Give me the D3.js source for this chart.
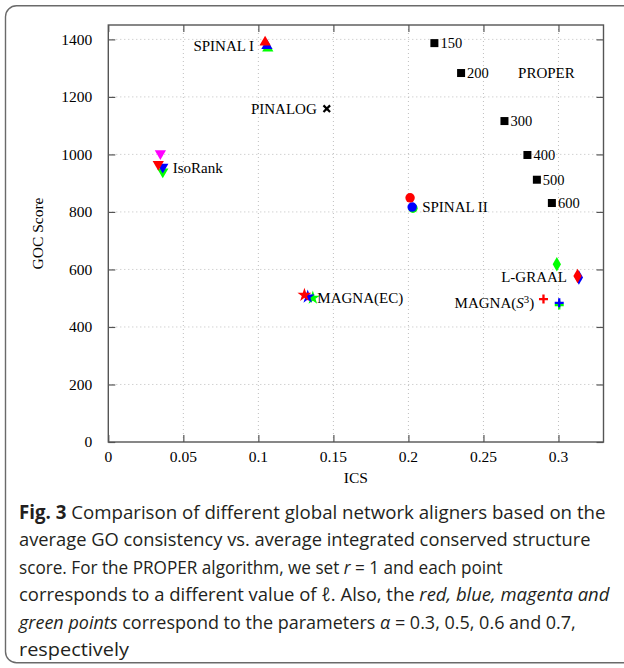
<!DOCTYPE html>
<html>
<head>
<meta charset="utf-8">
<script src="https://cdn.jsdelivr.net/npm/d3@7"></script>
<style>
  html, body { margin: 0; padding: 0; background: #fff; }
  svg { display: block; }
</style>
</head>
<body>
<svg id="chart" width="624" height="668"></svg>
<script>
// ---------------- DATA ----------------
// series order: alpha = 0.3 (red), 0.5 (blue), 0.6 (magenta), 0.7 (green)
const alphaValues = [0.3, 0.5, 0.6, 0.7];
const alphaColors = ["#ff0000", "#0000ff", "#ff00ff", "#00ff00"];

const spinalI_ICS  = [0.1045, 0.1057, null, 0.1063];
const spinalI_GOC  = [1390, 1378, null, 1369];
const isoRank_ICS  = [0.0333, 0.0363, 0.0347, 0.0363];
const isoRank_GOC  = [966, 956, 1003, 940];
const spinalII_ICS = [0.2011, 0.2025, null, 0.2030];
const spinalII_GOC = [849, 817, null, 813];
const lgraal_ICS   = [0.3127, 0.3136, null, 0.2989];
const lgraal_GOC   = [577, 572, null, 618];
const magnaS3_ICS  = [0.2900, 0.3005, null, 0.3005];
const magnaS3_GOC  = [497, 484, null, 476];
const magnaEC_ICS  = [0.1307, 0.1329, null, 0.1363];
const magnaEC_GOC  = [511, 505, null, 501];

const pinalog_ICS = [0.1456];
const pinalog_GOC = [1159];

const properL    = [150, 200, 300, 400, 500, 600];
const proper_ICS = [0.2173, 0.2351, 0.2640, 0.2793, 0.2856, 0.2956];
const proper_GOC = [1387, 1283, 1116, 998, 912, 831];

const xTicks = [0, 0.05, 0.1, 0.15, 0.2, 0.25, 0.3];
const xTickLabels = ["0", "0.05", "0.1", "0.15", "0.2", "0.25", "0.3"];
const yTicks = [0, 200, 400, 600, 800, 1000, 1200, 1400];
const xDomain = [0, 0.33];
const yDomain = [0, 1450];

// ---------------- LAYOUT ----------------
const svg = d3.select("#chart");
const L = 108.3, R = 603.5, T = 25, B = 442;
const x = d3.scaleLinear().domain(xDomain).range([L, R]);
const y = d3.scaleLinear().domain(yDomain).range([B, T]);
const serif = "'Liberation Serif', 'Times New Roman', serif";
const fs = 15.5;

// outer frame
svg.append("rect")
  .attr("x", 5.5).attr("y", 5.8).attr("width", 660).attr("height", 657)
  .attr("rx", 11).attr("fill", "none").attr("stroke", "#6a6a6a").attr("stroke-width", 1.4);

// grid
const grid = svg.append("g").attr("stroke", "#b8b8b8").attr("stroke-width", 0.9)
  .attr("stroke-dasharray", "1,3");
grid.selectAll("line.gx").data(xTicks.filter(d => d > 0)).join("line")
  .attr("x1", d => x(d)).attr("x2", d => x(d)).attr("y1", B).attr("y2", T);
grid.selectAll("line.gy").data(yTicks.filter(d => d > 0)).join("line")
  .attr("y1", d => y(d)).attr("y2", d => y(d)).attr("x1", L).attr("x2", R);

// axes (inward ticks on all four sides)
const axisColor = "#555";
const gB = svg.append("g").attr("transform", `translate(0,${B})`)
  .call(d3.axisTop(x).tickValues(xTicks).tickSize(7).tickFormat(""));
const gT = svg.append("g").attr("transform", `translate(0,${T})`)
  .call(d3.axisBottom(x).tickValues(xTicks).tickSize(7).tickFormat(""));
const gL = svg.append("g").attr("transform", `translate(${L},0)`)
  .call(d3.axisRight(y).tickValues(yTicks).tickSize(7).tickFormat(""));
const gR = svg.append("g").attr("transform", `translate(${R},0)`)
  .call(d3.axisLeft(y).tickValues(yTicks).tickSize(7).tickFormat(""));
[gB, gT, gL, gR].forEach(g => {
  g.select(".domain").remove();
  g.selectAll(".tick line").attr("stroke", axisColor).attr("stroke-width", 1.2);
});
svg.append("rect").attr("x", L).attr("y", T).attr("width", R - L).attr("height", B - T)
  .attr("fill", "none").attr("stroke", axisColor).attr("stroke-width", 1.4);

// tick labels
svg.append("g").selectAll("text").data(xTicks).join("text")
  .attr("x", d => x(d)).attr("y", B + 15).attr("dy", "0.35em")
  .attr("text-anchor", "middle").attr("font-family", serif).attr("font-size", fs)
  .text((d, i) => xTickLabels[i]);
svg.append("g").selectAll("text").data(yTicks).join("text")
  .attr("x", L - 16).attr("y", d => y(d)).attr("dy", "0.35em")
  .attr("text-anchor", "end").attr("font-family", serif).attr("font-size", fs)
  .text(d => d);

// axis titles
svg.append("text").attr("x", (L + R) / 2).attr("y", 478).attr("dy", "0.35em")
  .attr("text-anchor", "middle").attr("font-family", serif).attr("font-size", fs).text("ICS");
svg.append("text").attr("transform", `translate(38,${(T + B) / 2}) rotate(-90)`)
  .attr("dy", "0.35em").attr("text-anchor", "middle")
  .attr("font-family", serif).attr("font-size", fs).text("GOC Score");

// ---------------- MARKERS ----------------
const plot = svg.append("g");
function pts(ics, goc) {
  return alphaValues.map((a, i) => ({ i, a, c: alphaColors[i], x: ics[i], y: goc[i] }))
    .filter(d => d.x !== null)
    .sort((p, q) => [3, 2, 1, 0].indexOf(p.i) - [3, 2, 1, 0].indexOf(q.i)); // green, magenta, blue, red
}
function symbolSeries(ics, goc, type, size, rot) {
  plot.append("g").selectAll("path").data(pts(ics, goc)).join("path")
    .attr("transform", d => `translate(${x(d.x)},${y(d.y)}) rotate(${rot || 0})`)
    .attr("d", d3.symbol().type(type).size(size))
    .attr("fill", d => d.c);
}
symbolSeries(spinalI_ICS, spinalI_GOC, d3.symbolTriangle, 55, 0);     // SPINAL I
symbolSeries(isoRank_ICS, isoRank_GOC, d3.symbolTriangle, 55, 180);   // IsoRank
symbolSeries(spinalII_ICS, spinalII_GOC, d3.symbolCircle, 70, 0);     // SPINAL II
symbolSeries(lgraal_ICS, lgraal_GOC, d3.symbolDiamond, 60, 0);        // L-GRAAL
symbolSeries(magnaEC_ICS, magnaEC_GOC, d3.symbolStar, 60, 0);         // MAGNA(EC)
// MAGNA(S3): plus signs
plot.append("g").selectAll("path").data(pts(magnaS3_ICS, magnaS3_GOC)).join("path")
  .attr("transform", d => `translate(${x(d.x)},${y(d.y)})`)
  .attr("d", "M-4.5,0H4.5M0,-4.5V4.5")
  .attr("stroke", d => d.c).attr("stroke-width", 2.3).attr("fill", "none");
// PINALOG: black x
plot.append("g").selectAll("path").data(pinalog_ICS.map((v, i) => ({ x: v, y: pinalog_GOC[i] }))).join("path")
  .attr("transform", d => `translate(${x(d.x)},${y(d.y)})`)
  .attr("d", "M-3.3,-3.3L3.3,3.3M-3.3,3.3L3.3,-3.3")
  .attr("stroke", "#000").attr("stroke-width", 2.2).attr("fill", "none");
// PROPER: black squares
const proper = properL.map((l, i) => ({ l, x: proper_ICS[i], y: proper_GOC[i] }));
plot.append("g").selectAll("rect").data(proper).join("rect")
  .attr("x", d => x(d.x) - 4).attr("y", d => y(d.y) - 4)
  .attr("width", 8).attr("height", 8).attr("fill", "#000");
plot.append("g").selectAll("text").data(proper).join("text")
  .attr("x", d => x(d.x) + 6).attr("y", d => y(d.y)).attr("dy", "0.35em")
  .attr("font-family", serif).attr("font-size", fs - 1).text(d => d.l);

// ---------------- LABELS ----------------
function label(px, py, dx, dy, anchor, txt) {
  return svg.append("text").attr("x", x(px) + dx).attr("y", y(py) + dy).attr("dy", "0.35em")
    .attr("text-anchor", anchor).attr("font-family", serif).attr("font-size", fs - 0.5).text(txt);
}
label(spinalI_ICS[0], spinalI_GOC[0], -11, 3.5, "end", "SPINAL I");
label(pinalog_ICS[0], pinalog_GOC[0], -10, 0, "end", "PINALOG");
label(isoRank_ICS[1], isoRank_GOC[1], 10, 1, "start", "IsoRank");
label(spinalII_ICS[1], spinalII_GOC[1], 10, 0, "start", "SPINAL II");
label(magnaEC_ICS[3], magnaEC_GOC[3], 4.5, -0.5, "start", "MAGNA(EC)");
label(lgraal_ICS[0], lgraal_GOC[0], -10.5, 0.7, "end", "L-GRAAL");
label(proper_ICS[1], proper_GOC[1], 57, 0, "start", "PROPER");
const ms = label(magnaS3_ICS[0], magnaS3_GOC[0], -9.3, 3.7, "end", "");
ms.append("tspan").text("MAGNA(");
ms.append("tspan").attr("font-style", "italic").text("S");
ms.append("tspan").attr("font-size", fs * 0.7).attr("dy", -5.5).text("3");
ms.append("tspan").attr("dy", 5.5).text(")");

// ---------------- CAPTION ----------------
const sans = "'Open Sans', 'Noto Sans', sans-serif";
const capLines = [
  { y: 518.5, w: 587, parts: [["Fig. 3", "b"], [" Comparison of different global network aligners based on the", ""]] },
  { y: 546, w: 572, parts: [["average GO consistency vs. average integrated conserved structure", ""]] },
  { y: 573.5, w: 484, parts: [["score. For the PROPER algorithm, we set ", ""], ["r", "i"], [" = 1 and each point", ""]] },
  { y: 601, w: 591, parts: [["corresponds to a different value of ℓ. Also, the ", ""], ["red, blue, magenta and", "i"]] },
  { y: 628.5, w: 557, parts: [["green points", "i"], [" correspond to the parameters ", ""], ["α", "i"], [" = 0.3, 0.5, 0.6 and 0.7,", ""]] },
  { y: 656, w: 110, parts: [["respectively", ""]] }
];
capLines.forEach(line => {
  const t = svg.append("text").attr("x", 0).attr("y", 0)
    .attr("font-family", sans).attr("font-size", 19).attr("fill", "#231f20");
  line.parts.forEach(([s, st]) => {
    const ts = t.append("tspan").text(s);
    if (st === "b") ts.attr("font-weight", "bold");
    if (st === "i") ts.attr("font-style", "italic");
  });
  const natural = t.node().getComputedTextLength();
  const sx = natural > 0 ? line.w / natural : 1;
  t.attr("transform", `translate(19,${line.y}) scale(${sx},1)`);
});
</script>
</body>
</html>
